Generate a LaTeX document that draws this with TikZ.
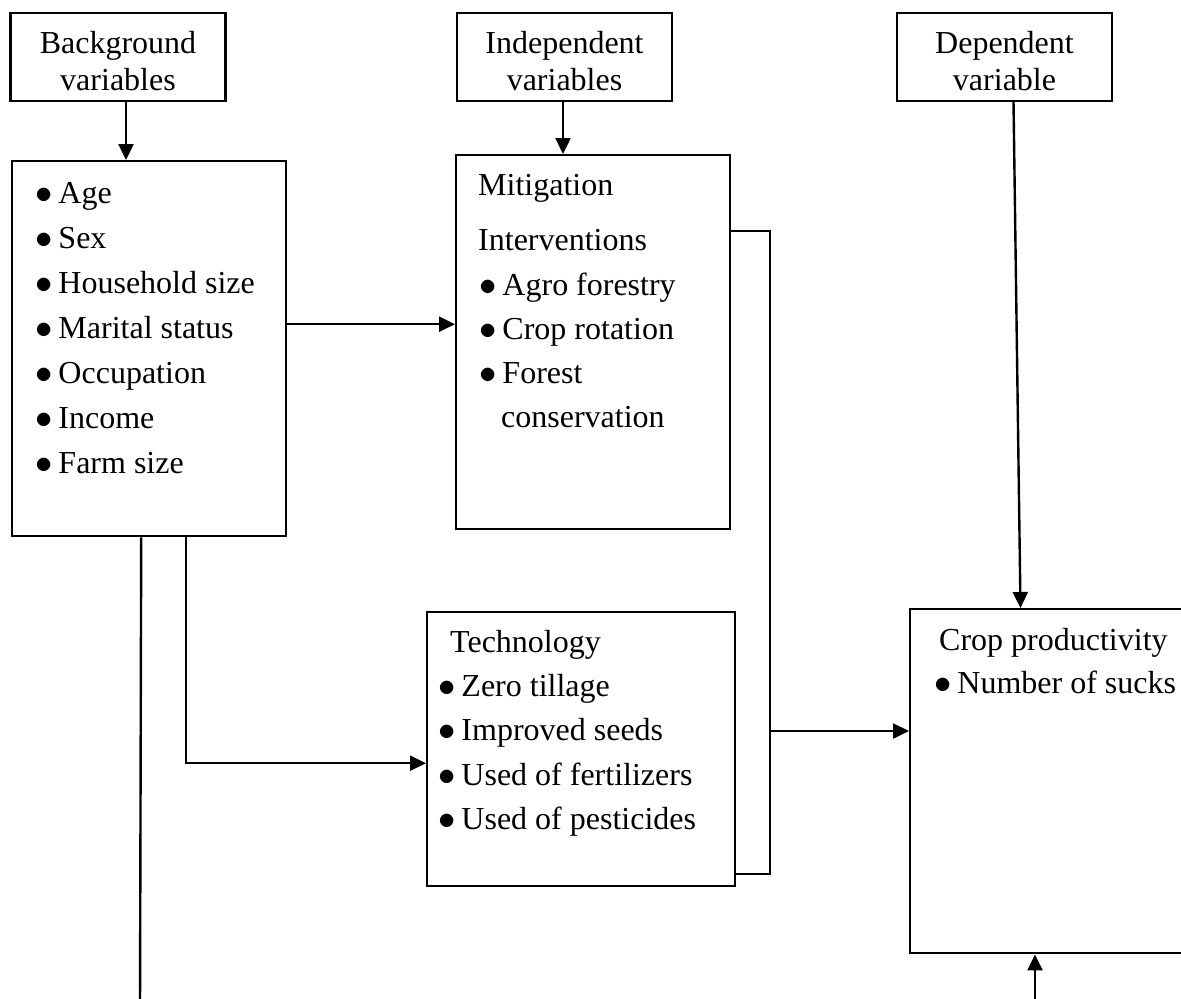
\documentclass[tikz,border=0pt]{standalone}
\usepackage{fontspec}
\setmainfont{Liberation Serif}
\usetikzlibrary{arrows.meta}
\newcommand{\bul}{$\bullet$\hspace{3pt}}

\begin{document}
\begin{tikzpicture}[x=0.5pt,y=-0.5pt,line width=1.2pt,>={Triangle[length=8pt,width=7.5pt]},
		every node/.style={font=\fontsize{16}{18.5}\selectfont},
		head/.style={draw,align=center,inner sep=0,minimum width=107.5pt,minimum height=44pt},
		panel/.style={draw,inner sep=0,anchor=north west},
		item/.style={anchor=base west,inner sep=0}]
		\useasboundingbox (0,0) rectangle (1181,998);
		% heading boxes
		\node[head] (bg) at (118,57) {\rule{0pt}{15pt}Background\\variables};
		\node[head] (ind) at (564.5,57) {\rule{0pt}{15pt}Independent\\variables};
		\node[head] (dep) at (1004.5,57) {\rule{0pt}{15pt}Dependent\\variable};
		% main boxes
		\node[panel,minimum width=137pt,minimum height=187.5pt] (bgbox) at (11,160) {};
		\node[panel,minimum width=137pt,minimum height=187pt] (mit) at (455,154) {};
		\node[panel,minimum width=154pt,minimum height=137pt] (tech) at (426,611) {};
		\node[panel,minimum width=145pt,minimum height=172pt] (crop) at (909,608) {};
		% contents
		\foreach \t [count=\i from 0] in {Age,Sex,Household size,Marital status,Occupation,Income,Farm size}
			\node[item] (bg-\i) at (34,{203+45*\i}) {\bul\t};
		\node[item] (mit-t1) at (477,195) {Mitigation};
		\node[item] (mit-t2) at (477,250) {Interventions};
		\foreach \t [count=\i from 0] in {Agro forestry,Crop rotation,Forest}
			\node[item] (mit-\i) at (478,{295+44*\i}) {\bul\t};
		\node[item] (mit-3) at (500,427) {conservation};
		\node[item] (tech-t) at (449,652) {Technology};
		\foreach \t [count=\i from 0] in {Zero tillage,Improved seeds,Used of fertilizers,Used of pesticides}
			\node[item] (tech-\i) at (437,{696+44.5*\i}) {\bul\t};
		\node[item] (crop-t) at (938,650) {Crop productivity};
		\node[item] (crop-0) at (933,693) {\bul Number of sucks};
		% connectors
		\draw[->] ([xshift=4pt]bg.south) -- ([xshift=4pt]bg.south |- bgbox.north);
		\draw[->] ([xshift=-0.75pt]ind.south) -- ([xshift=-0.75pt]ind.south |- mit.north);
		\draw[->] ([xshift=4.5pt]dep.south) -- ([xshift=8pt]dep.south |- crop.north);
		\draw[->] ([yshift=12.25pt]bgbox.east) -- ([yshift=12.25pt]bgbox.east -| mit.west);
		\draw[->] ([xshift=18.5pt]bgbox.south) |- ([yshift=-7pt]tech.west);
		\coordinate (cut) at (140,1010);
		\draw ([xshift=-4pt]bgbox.south) -- (cut);
		\coordinate (join) at (770,731);
		\draw ([yshift=55.5pt]mit.east) -| (join) |- ([yshift=-62.5pt]tech.east);
		\draw[->] (join) -- (join -| crop.west);
		\coordinate (src) at (1035,1010);
		\draw[->] (src) -- (src |- crop.south);
	\end{tikzpicture}
\end{document}
